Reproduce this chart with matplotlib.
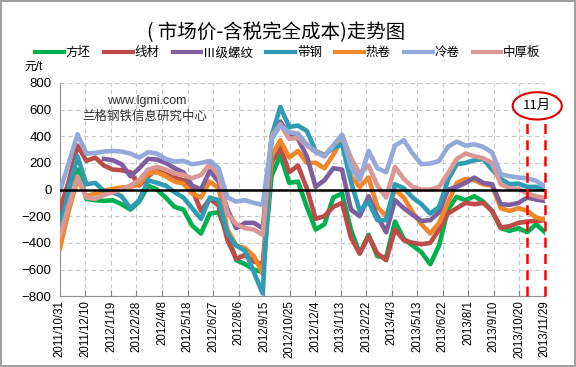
import matplotlib
matplotlib.use('Agg')
import matplotlib.pyplot as plt
import matplotlib.dates as mdates
from matplotlib.patches import Ellipse
import numpy as np
import pandas as pd

plt.rcParams['font.family'] = ['Liberation Sans', 'Noto Sans CJK SC', 'DejaVu Sans']

### data (yuan/t)
dates = pd.date_range('2011-10-31', '2013-11-29', periods=56)

fangpi = [-220, -60, 150, -70, -80, -85, -80, -110, -150, -90,
          30, 0, -60, -130, -150, -270, -330, -180, -170, -340,
          -530, -560, -600, -620, 100, 260, 50, 60, -130, -300,
          -260, -60, -30, -300, -480, -340, -500, -510, -240, -370,
          -420, -470, -560, -420, -150, -55, -80, -50, -90, -160,
          -290, -310, -290, -320, -260, -320]
xiancai = [-150, 60, 330, 215, 240, 180, 150, 145, 130, 30,
           100, 150, 140, 90, 70, 0, -160, -70, -120, -380,
           -520, -490, -540, -560, 200, 320, 130, 180, 10, -220,
           -200, -130, -100, -360, -480, -350, -480, -530, -300, -380,
           -400, -410, -400, -300, -180, -140, -100, -110, -100, -160,
           -285, -275, -250, -240, -235, -230]
luowen = [np.nan, np.nan, np.nan, np.nan, np.nan, 230, 220, 190, 100, 160,
          230, 225, 200, 160, 130, 30, 0, 140, 60, -150,
          -290, -250, -250, -290, 380, 510, 410, 380, 250, 20,
          70, 160, 150, -150, -200, -50, -200, -320, -80, -140,
          -190, -235, -230, -170, 0, 20, 50, 90, 50, 40,
          -110, -115, -100, -60, -75, -85]
daigang = [-300, 0, 250, 40, 50, -10, -20, -50, -140, -80,
           70, 50, 30, -20, -60, -140, -220, -60, -80, -330,
           -420, -460, -620, -780, 400, 620, 470, 480, 440, 290,
           260, 310, 340, 60, -160, -90, -230, -230, 40, 10,
           -60, -110, -180, -130, 70, 190, 200, 220, 230, 150,
           80, 40, 45, 20, 20, 0]
rejuan = [-440, -160, 75, -50, -30, -10, 5, 15, 20, 40,
          120, 130, 100, 60, 45, -30, -60, 60, 10, -300,
          -420, -440, -500, -630, 250, 370, 240, 290, 200, 200,
          160, 260, 380, 100, 20, 90, -130, -200, 0, -60,
          -170, -260, -330, -250, -100, 50, 80, 70, 40, 30,
          -140, -160, -140, -160, -210, -225]
lengjuan = [-15, 200, 415, 270, 275, 285, 290, 285, 270, 240,
            280, 270, 230, 210, 215, 190, 200, 215, 160, -60,
            -90, -80, -100, -115, 380, 480, 430, 420, 340, 280,
            250, 330, 410, 170, 70, 290, 160, 130, 330, 370,
            270, 190, 195, 215, 320, 360, 330, 340, 320, 280,
            115, 100, 90, 85, 65, 25]
zhonghouban = [-350, -120, 100, -60, -70, -40, -20, 0, 30, 70,
               150, 170, 150, 120, 110, 85, 110, 190, 110, -180,
               -260, -290, -300, -340, 400, 490, 380, 390, 330, 290,
               250, 330, 410, 240, 120, 180, 30, -60, 170, 80,
               20, 0, 0, 20, 120, 230, 270, 250, 235, 200,
               40, 10, 5, -30, -50, -65]

names = ['方坯', '线材', 'Ⅲ级螺纹', '带钢', '热卷', '冷卷', '中厚板']
colors = ['#00B050', '#BE4B48', '#7D5FA0', '#2F9CB4', '#F0882A', '#94A9D9', '#D99795']
series = [fangpi, xiancai, luowen, daigang, rejuan, lengjuan, zhonghouban]

tick_dates = pd.date_range('2011-10-31', periods=20, freq='40D')
tick_labels = [f"{d.year}/{d.month}/{d.day}" for d in tick_dates]

fig = plt.figure(figsize=(5.76, 3.67), dpi=100)
fig.patch.set_edgecolor('#A0A0A0')
fig.patch.set_linewidth(1.5)
ax = fig.add_axes([0.104, 0.193, 0.842, 0.581])

# draw order: lower ones first so the light lines sit on top like the original
order = [0, 1, 4, 2, 3, 6, 5]
for k in order:
    ax.plot(dates, series[k], color=colors[k], lw=3.3, solid_joinstyle='round', zorder=3)

ax.axhline(0, color='black', lw=1.8, zorder=4)

ax.set_ylim(-800, 800)
ax.set_yticks(range(-800, 801, 200))
ax.set_xlim(tick_dates[0], pd.Timestamp('2013-11-29'))
ax.set_xticks(tick_dates)
ax.set_xticklabels(tick_labels, rotation=90, fontsize=8.3)
ax.tick_params(axis='y', labelsize=9.5, length=0, pad=6)
ax.tick_params(axis='x', direction='in', length=4, color='#808080', pad=3)
ax.grid(True, ls=(0, (4, 3)), color='#C8C8C8', lw=0.8)
ax.set_axisbelow(True)
for s in ['top', 'right']:
    ax.spines[s].set_visible(False)
for s in ['left', 'bottom']:
    ax.spines[s].set_color('#909090')

# legend
handles = [plt.Line2D([], [], color=colors[k], lw=3) for k in range(7)]
fig.legend(handles, names, loc='center', bbox_to_anchor=(0.5, 0.855), ncol=7,
           frameon=False, fontsize=9, handlelength=2.3, handletextpad=0.15,
           columnspacing=1.05, borderpad=0)

fig.text(0.48, 0.91, '( 市场价-含税完全成本)走势图', ha='center', va='center', fontsize=14,
         family=['Noto Sans CJK SC', 'DejaVu Sans'])
fig.text(0.058, 0.817, '元/t', ha='center', va='center', fontsize=8.5)

ax.text(0.18, 0.915, 'www.lgmi.com', transform=ax.transAxes, ha='center', va='center',
        fontsize=9, color='#303030')
ax.text(0.175, 0.845, '兰格钢铁信息研究中心', transform=ax.transAxes, ha='center', va='center',
        fontsize=9, color='#303030', family=['Noto Sans CJK SC', 'DejaVu Sans'])

# November marker
nov_start = pd.Timestamp('2013-11-01')
nov_end = pd.Timestamp('2013-11-29')
for d in [nov_start, nov_end]:
    ax.plot([d, d], [-800, 525], color='#FF0000', ls=(0, (4, 2.5)), lw=1.8, zorder=5,
            clip_on=False)
cx = mdates.date2num(pd.Timestamp('2013-11-17'))
ell = Ellipse((cx, 628), width=77, height=205, facecolor='white', edgecolor='#E00000',
              lw=1.5, zorder=6, clip_on=False)
ax.add_patch(ell)
ax.text(cx, 628, '11月', ha='center', va='center', fontsize=9.5, zorder=7,
        family=['Noto Sans CJK SC', 'DejaVu Sans'])

fig.savefig('out.png', dpi=100)
